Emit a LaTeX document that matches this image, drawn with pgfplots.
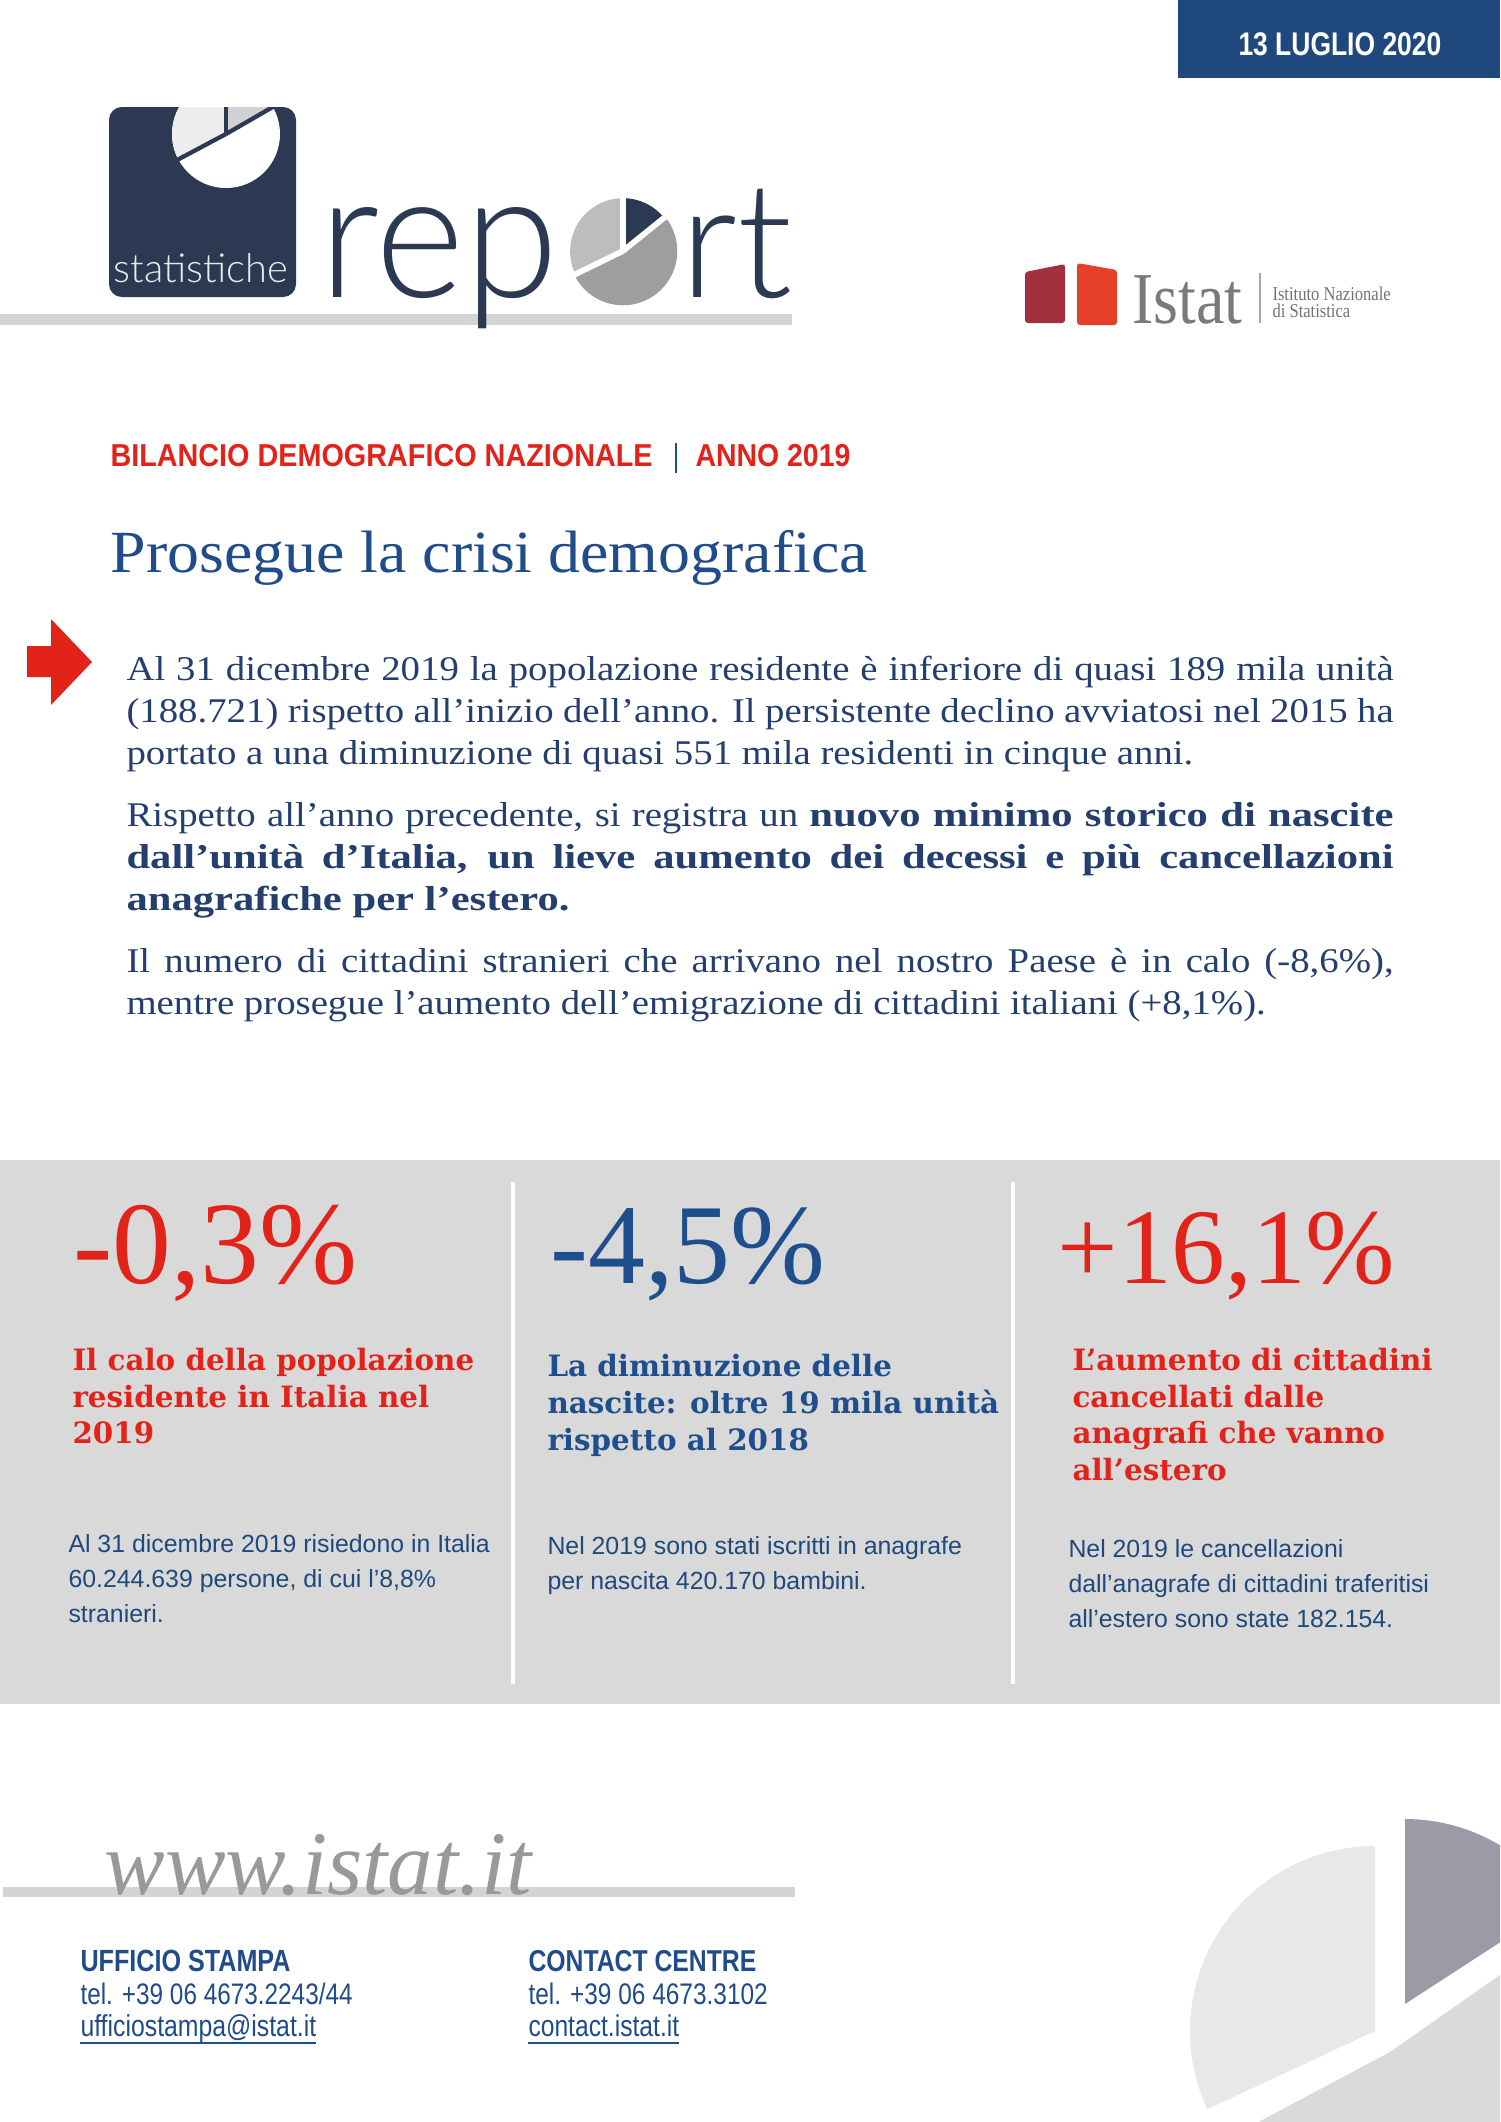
\documentclass[border=0pt]{standalone}
\usepackage{fontspec}
\usepackage{pgfplots}
\pgfplotsset{compat=1.18}
\usepackage{graphicx}
\setmainfont{Liberation Serif}
\newfontfamily\bodyfont{Liberation Serif}[FakeStretch=1.12]
\newfontfamily\bodybold{Liberation Serif Bold}[FakeStretch=1.23]
\newfontfamily\dvs{DejaVu Serif}
\newfontfamily\arial{Liberation Sans}
\newfontfamily\narrow{Liberation Sans}[FakeStretch=0.82]
\newfontfamily\lightsans{Lato Light}
\definecolor{datebox}{HTML}{1F497D}
\definecolor{logonavy}{HTML}{2B3A52}
\definecolor{istred}{HTML}{E2231A}
\definecolor{titleblue}{HTML}{214C8A}
\definecolor{parblue}{HTML}{243F6E}
\definecolor{numblue}{HTML}{1F4E8C}
\definecolor{bodyblue}{HTML}{1F497D}
\definecolor{boxgray}{HTML}{D9D9D9}
\definecolor{linegray}{HTML}{D4D4D4}
\definecolor{ired1}{HTML}{A2303E}
\definecolor{ired2}{HTML}{E7402A}
\definecolor{piedark}{HTML}{9D9AA8}
\definecolor{pielight}{HTML}{E8E8E8}
\definecolor{pielow}{HTML}{DADADA}
\begin{document}
\begin{tikzpicture}
\begin{axis}[width=21cm,height=29.708cm,scale only axis,
  xmin=0,xmax=1500,ymin=0,ymax=2122,y dir=reverse,hide axis,clip=false]
\addplot[draw=none,forget plot] coordinates {(0,0) (1500,2122)};
\begin{scope}
\clip (0,0) rectangle (1500,2122);
\fill[white] (0,0) rectangle (1500,2122);
% date box
\fill[datebox] (1178,0) rectangle (1500,78);
\node[anchor=base west,inner sep=0,text=white] at (1238,55) {\resizebox{2.84cm}{0.32cm}{\narrow\bfseries 13 LUGLIO 2020}};
% gray line under logo
\fill[linegray] (0,314) rectangle (792,325);
% logo square
\fill[logonavy,rounded corners=0.18cm] (109,107) rectangle (296,297);
\begin{scope}
\clip[rounded corners=0.18cm] (109,107) rectangle (296,297);
\fill[white] (226,134) circle[radius=0.756cm];
\fill[black!7] (226,134) -- +(90:0.756cm) arc[start angle=90,end angle=208,radius=0.756cm] -- cycle;
\fill[black!18] (226,134) -- +(30:0.756cm) arc[start angle=30,end angle=90,radius=0.756cm] -- cycle;
\draw[logonavy,line width=0.06cm] (226,134) -- +(90:0.8cm);
\draw[logonavy,line width=0.06cm] (226,134) -- +(30:0.8cm);
\draw[logonavy,line width=0.06cm] (226,134) -- +(208:0.8cm);
\end{scope}
\node[anchor=base west,inner sep=0,text=black!8] at (113,282) {\resizebox{2.44cm}{!}{\lightsans statistiche}};
% report
\node[anchor=base west,inner sep=0,text=logonavy] at (319,297) {\resizebox{3.35cm}{1.26cm}{\lightsans rep}};
\node[anchor=base west,inner sep=0,text=logonavy] at (680,297) {\resizebox{1.57cm}{!}{\lightsans rt}};
\fill[black!26] (623,251) -- +(90:0.74cm) arc[start angle=90,end angle=206,radius=0.74cm] -- cycle;
\fill[logonavy] (623,251) -- +(39:0.74cm) arc[start angle=39,end angle=90,radius=0.74cm] -- cycle;
\fill[black!38] (623,251) -- +(206:0.76cm) arc[start angle=206,end angle=399,radius=0.76cm] -- cycle;
\draw[white,line width=0.08cm] (623,251) -- +(90:0.8cm);
\draw[white,line width=0.08cm] (623,251) -- +(39:0.8cm);
\draw[white,line width=0.08cm] (623,251) -- +(206:0.8cm);
% Istat logo
\fill[ired1,rounded corners=0.04cm] (1025,323) -- (1025,272) -- (1065,264) -- (1065,323) -- cycle;
\fill[ired2,rounded corners=0.04cm] (1077,325) -- (1077,263) -- (1117,270) -- (1117,325) -- cycle;
\node[anchor=base west,inner sep=0,text=black!52] at (1132,323) {\resizebox{1.54cm}{0.67cm}{Istat}};
\draw[black!35,line width=0.02cm] (1260,273) -- (1260,323);
\node[anchor=base west,inner sep=0,text=black!55] at (1272,300) {\fontsize{10}{12}\selectfont\scalebox{0.66}[0.78]{Istituto Nazionale}};
\node[anchor=base west,inner sep=0,text=black!55] at (1272,317) {\fontsize{10}{12}\selectfont\scalebox{0.66}[0.78]{di Statistica}};
% red heading
\node[anchor=base west,inner sep=0,text=istred] at (110,466) {\resizebox{7.59cm}{0.31cm}{\narrow\bfseries BILANCIO DEMOGRAFICO NAZIONALE}};
\draw[titleblue,line width=0.035cm] (676,443) -- (676,473);
\node[anchor=base west,inner sep=0,text=istred] at (695,466) {\resizebox{2.17cm}{0.31cm}{\narrow\bfseries ANNO 2019}};
% title
\node[anchor=base west,inner sep=0,text=titleblue] at (110,572) {\resizebox{10.6cm}{0.59cm}{Prosegue la crisi demografica}};
% arrow
\fill[istred] (27,646) -- (51,646) -- (51,619) -- (92,662) -- (51,705) -- (51,677) -- (27,677) -- cycle;
% paragraphs
\begin{scope}[every node/.style={anchor=base west,inner sep=0,text=parblue,font=\bodyfont\fontsize{13.8}{16}\selectfont}]
\node at (126,680) {\hbox to 17.74cm{Al 31 dicembre 2019 la popolazione residente è inferiore di quasi 189 mila unità}};
\node at (126,722) {\hbox to 17.74cm{(188.721) rispetto all’inizio dell’anno. Il persistente declino avviatosi nel 2015 ha}};
\node at (126,764) {portato a una diminuzione di quasi 551 mila residenti in cinque anni.};
\node at (126,826) {\hbox to 17.74cm{Rispetto all’anno precedente, si registra un {\bodybold nuovo minimo storico di nascite}}};
\node at (126,868) {\hbox to 17.74cm{\bodybold dall’unità d’Italia, un lieve aumento dei decessi e più cancellazioni}};
\node at (126,910) {\bodybold anagrafiche per l’estero.};
\node at (126,972) {\hbox to 17.74cm{Il numero di cittadini stranieri che arrivano nel nostro Paese è in calo (-8,6\%),}};
\node at (126,1014) {mentre prosegue l’aumento dell’emigrazione di cittadini italiani (+8,1\%).};
\end{scope}
% gray box
\fill[boxgray] (0,1160) rectangle (1500,1704);
\fill[white] (511,1182) rectangle (515,1684);
\fill[white] (1011,1182) rectangle (1015,1684);
\node[anchor=base west,inner sep=0,text=istred] at (73,1283) {\resizebox{3.98cm}{!}{-0,3\%}};
\node[anchor=base west,inner sep=0,text=numblue] at (550,1283) {\resizebox{3.85cm}{!}{-4,5\%}};
\node[anchor=base west,inner sep=0,text=istred] at (1057,1283) {\resizebox{4.73cm}{!}{+16,1\%}};
\begin{scope}[every node/.style={anchor=base west,inner sep=0,font=\dvs\bfseries\fontsize{11.7}{14}\selectfont}]
\node[text=istred] at (72,1370) {Il calo della popolazione};
\node[text=istred] at (72,1407) {residente in Italia nel};
\node[text=istred] at (72,1443) {2019};
\node[text=numblue] at (547,1376) {La diminuzione delle};
\node[text=numblue] at (547,1413) {nascite: oltre 19 mila unità};
\node[text=numblue] at (547,1450) {rispetto al 2018};
\node[text=istred] at (1072,1370) {L’aumento di cittadini};
\node[text=istred] at (1072,1407) {cancellati dalle};
\node[text=istred] at (1072,1443) {anagrafi che vanno};
\node[text=istred] at (1072,1480) {all’estero};
\end{scope}
\begin{scope}[every node/.style={anchor=base west,inner sep=0,text=bodyblue,font=\arial\fontsize{9.9}{12}\selectfont}]
\node at (68,1552) {Al 31 dicembre 2019 risiedono in Italia};
\node at (68,1587) {60.244.639 persone, di cui l’8,8\%};
\node at (68,1622) {stranieri.};
\node at (547,1554) {Nel 2019 sono stati iscritti in anagrafe};
\node at (547,1589) {per nascita 420.170 bambini.};
\node at (1068,1557) {Nel 2019 le cancellazioni};
\node at (1068,1592) {dall’anagrafe di cittadini traferitisi};
\node at (1068,1627) {all’estero sono state 182.154.};
\end{scope}
% footer
\fill[linegray] (3,1887) rectangle (795,1897);
\node[anchor=base west,inner sep=0,text=black!40] at (104,1894) {\resizebox{5.98cm}{!}{\itshape www.istat.it}};
\node[anchor=base west,inner sep=0,text=titleblue] at (80,1971) {\resizebox{2.94cm}{!}{\narrow\bfseries UFFICIO STAMPA}};
\node[anchor=base west,inner sep=0,text=titleblue] at (80,2004) {\resizebox{3.81cm}{!}{\narrow tel. +39 06 4673.2243/44}};
\node[anchor=base west,inner sep=0,text=titleblue] at (80,2036) {\resizebox{3.30cm}{!}{\narrow ufficiostampa@istat.it}};
\draw[titleblue,line width=0.025cm] (80,2043) -- (316,2043);
\node[anchor=base west,inner sep=0,text=titleblue] at (528,1971) {\resizebox{3.19cm}{!}{\narrow\bfseries CONTACT CENTRE}};
\node[anchor=base west,inner sep=0,text=titleblue] at (528,2004) {\resizebox{3.35cm}{!}{\narrow tel. +39 06 4673.3102}};
\node[anchor=base west,inner sep=0,text=titleblue] at (528,2036) {\resizebox{2.11cm}{!}{\narrow contact.istat.it}};
\draw[titleblue,line width=0.025cm] (528,2043) -- (679,2043);
% decorative pie bottom right
\fill[pielight] (1375,2031) -- +(90:2.59cm) arc[start angle=90,end angle=205,radius=2.59cm] -- cycle;
\fill[piedark] (1405,2004) -- +(33:2.59cm) arc[start angle=33,end angle=90,radius=2.59cm] -- cycle;
\fill[pielow] (1390,2052) -- +(208:2.73cm) arc[start angle=208,end angle=395,radius=2.73cm] -- cycle;
\end{scope}
\end{axis}
\pgfresetboundingbox
\useasboundingbox (current axis.south west) rectangle (current axis.north east);
\end{tikzpicture}
\end{document}
